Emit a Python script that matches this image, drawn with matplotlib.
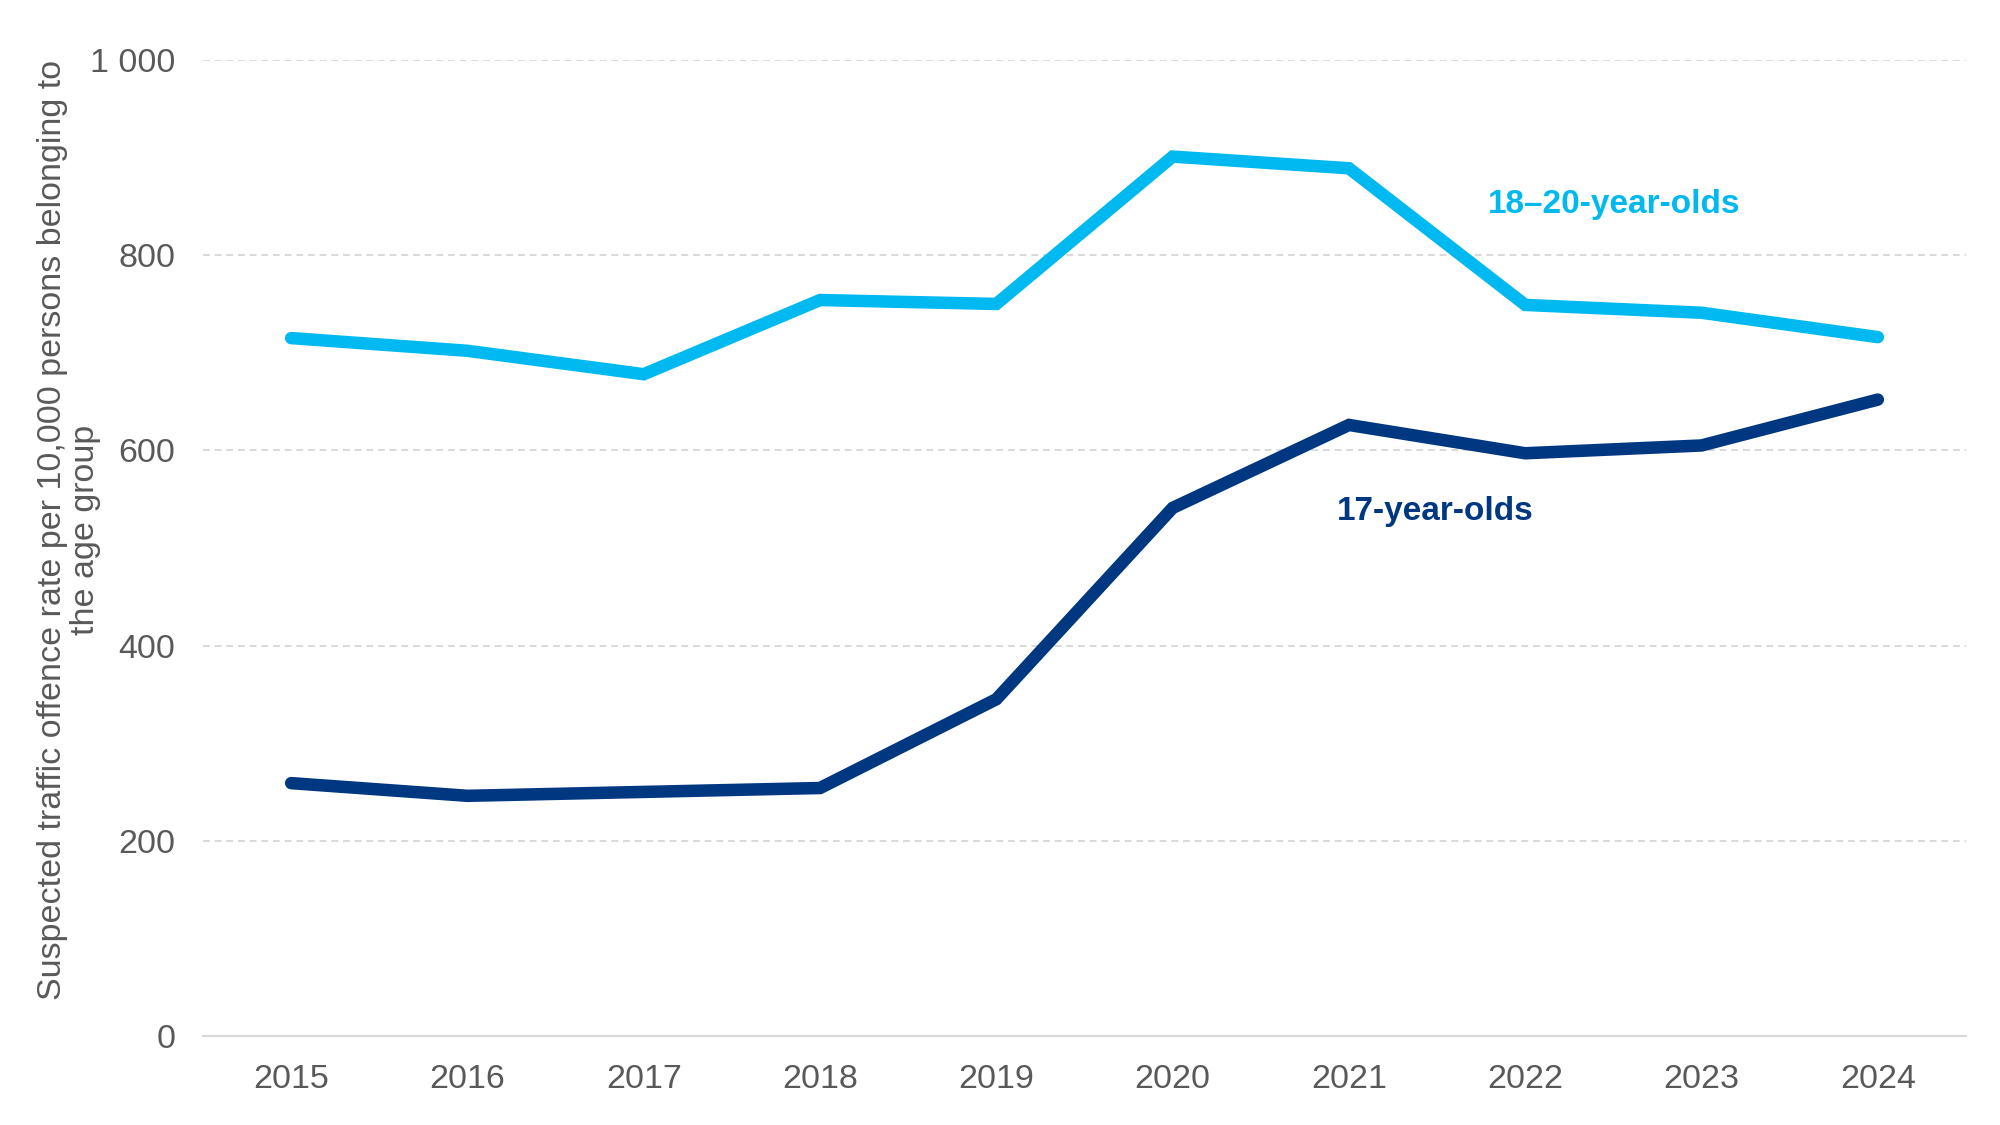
import matplotlib
matplotlib.use("Agg")
import matplotlib.pyplot as plt
from matplotlib.ticker import FuncFormatter

plt.rcParams['font.family'] = ['Liberation Sans', 'DejaVu Sans']

years = [2015, 2016, 2017, 2018, 2019, 2020, 2021, 2022, 2023, 2024]
rate_18_20 = [715, 702, 678, 754, 750, 901, 889, 749, 741, 716]
rate_17 = [259, 246, 250, 254, 345, 541, 626, 597, 605, 652]

light_blue = '#00B9F1'
dark_blue = '#003781'
grey_text = '#595959'
grid_grey = '#D9D9D9'

fig = plt.figure(figsize=(20, 11.25), dpi=100)
ax = fig.add_axes([0.1015, 0.0792, 0.8815, 0.8675])

ax.plot(years, rate_18_20, color=light_blue, lw=9, solid_capstyle='round',
        solid_joinstyle='miter', zorder=3)
ax.plot(years, rate_17, color=dark_blue, lw=9, solid_capstyle='round',
        solid_joinstyle='miter', zorder=3)

ax.text(2021.79, 852, '18–20-year-olds', color=light_blue, fontsize=24,
        fontweight='bold', ha='left', va='center')
ax.text(2020.93, 537, '17-year-olds', color=dark_blue, fontsize=24,
        fontweight='bold', ha='left', va='center')

ax.set_xlim(2014.5, 2024.5)
ax.set_ylim(0, 1000)
ax.set_xticks(years)
ax.set_yticks([0, 200, 400, 600, 800, 1000])
ax.yaxis.set_major_formatter(FuncFormatter(lambda v, p: f'{int(v):,}'.replace(',', ' ')))

ax.grid(axis='y', color=grid_grey, lw=1.4, linestyle=(0, (3.5, 2.5)), zorder=0)
ax.set_axisbelow(True)
for s in ['top', 'right', 'left']:
    ax.spines[s].set_visible(False)
ax.spines['bottom'].set_color(grid_grey)
ax.spines['bottom'].set_linewidth(1.5)

ax.tick_params(axis='both', length=0, labelsize=24.5, labelcolor=grey_text, pad=20)

fig.text(0.0345, 0.529,
         'Suspected traffic offence rate per 10,000 persons belonging to\nthe age group',
         rotation=90, ha='center', va='center', multialignment='center',
         fontsize=24.5, color=grey_text, linespacing=1.12)

fig.savefig('out.png', dpi=100, facecolor='white')
